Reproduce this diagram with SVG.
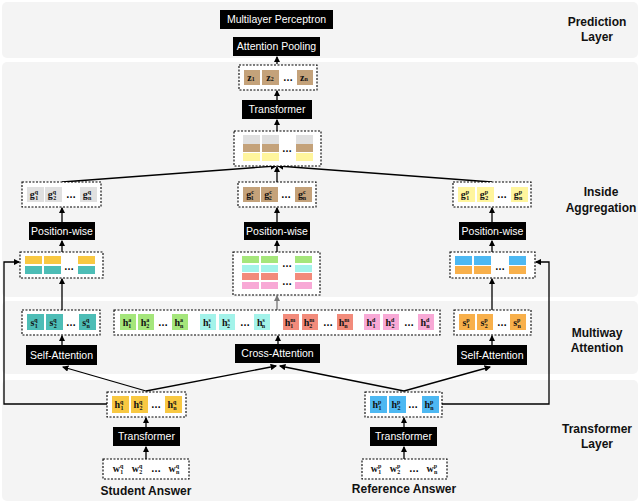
<svg xmlns="http://www.w3.org/2000/svg" width="640" height="503" viewBox="0 0 640 503">
<style>
.band{fill:#f4f4f4}
.blk{fill:#000}
.bt{fill:#fff;font-family:"Liberation Sans",Arial,sans-serif;font-size:10.5px;text-anchor:middle}
.db{fill:#fff;stroke:#000;stroke-width:1.1;stroke-dasharray:2,1.5}
.ct{font-family:"Liberation Serif",serif;font-weight:bold;font-size:10px;text-anchor:middle;fill:#111}
.dots{font-family:"Liberation Sans",sans-serif;font-weight:bold;font-size:10px;text-anchor:middle}
.lab{font-family:"Liberation Sans",Arial,sans-serif;font-weight:bold;font-size:12px;text-anchor:middle;fill:#111}
.ln{fill:none;stroke:#000;stroke-width:1.3}
.gy{fill:#e0e0e0}.br{fill:#c4a27a}.yl{fill:#fff59d}.yo{fill:#f8c842}.tl{fill:#4dbdb6}
.gr{fill:#a5e67b}.cy{fill:#a3f3ea}.sa{fill:#f28b7b}.pk{fill:#f8a9d6}.bl{fill:#4db8f2}.or{fill:#f8b04b}
</style>
<defs><marker id="a" viewBox="0 0 6 6" refX="5" refY="3" markerWidth="5" markerHeight="5" orient="auto"><path d="M0,0L6,3L0,6z" fill="#000"/></marker>
<marker id="ag" viewBox="0 0 6 6" refX="5" refY="3" markerWidth="5" markerHeight="5" orient="auto"><path d="M0,0L6,3L0,6z" fill="#777"/></marker></defs>
<rect class="band" x="2" y="2" width="636" height="56" rx="5"/>
<rect class="band" x="2" y="62" width="636" height="235" rx="5"/>
<rect class="band" x="2" y="301" width="636" height="73" rx="5"/>
<rect class="band" x="2" y="380" width="636" height="121" rx="5"/>
<g id="labels">
<text class="lab" x="597" y="26">Prediction</text><text class="lab" x="597" y="41">Layer</text>
<text class="lab" x="601" y="196">Inside</text><text class="lab" x="601" y="212">Aggregation</text>
<text class="lab" x="597" y="337">Multiway</text><text class="lab" x="597" y="352">Attention</text>
<text class="lab" x="597" y="433">Transformer</text><text class="lab" x="597" y="448">Layer</text>
<text class="lab" x="146" y="495">Student Answer</text><text class="lab" x="404" y="493">Reference Answer</text>
</g>
<g id="connectors">
<path class="ln" marker-end="url(#a)" d="M277,64V57"/>
<path class="ln" marker-end="url(#a)" d="M277,100V91"/>
<path class="ln" marker-end="url(#a)" d="M277,131V120"/>
<path class="ln" marker-end="url(#a)" d="M62,182L276,166"/>
<path class="ln" marker-end="url(#a)" d="M277,182V167"/>
<path class="ln" marker-end="url(#a)" d="M492,182L278,166"/>
<path class="ln" marker-end="url(#a)" d="M62,222V208"/>
<path class="ln" marker-end="url(#a)" d="M277,222V208"/>
<path class="ln" marker-end="url(#a)" d="M492,222V208"/>
<path class="ln" marker-end="url(#a)" d="M62,252V241"/>
<path class="ln" marker-end="url(#a)" d="M277,252V241"/>
<path class="ln" marker-end="url(#a)" d="M492,252V241"/>
<path class="ln" marker-end="url(#a)" d="M62,310V279"/>
<path class="ln" marker-end="url(#a)" d="M492,310V279"/>
<path class="ln" stroke="#777" style="stroke:#777" marker-end="url(#ag)" d="M277,310V296"/>
<path class="ln" marker-end="url(#a)" d="M62,345V336"/>
<path class="ln" marker-end="url(#a)" d="M492,345V336"/>
<path class="ln" marker-end="url(#a)" d="M278,344V336"/>
<path class="ln" marker-end="url(#a)" d="M146,391L63,367"/>
<path class="ln" marker-end="url(#a)" d="M146,391L276,366"/>
<path class="ln" marker-end="url(#a)" d="M404,391L280,366"/>
<path class="ln" marker-end="url(#a)" d="M404,391L490,367"/>
<path class="ln" marker-end="url(#a)" d="M107,404H4V262H19"/>
<path class="ln" marker-end="url(#a)" d="M442,404H549V262H536"/>
<path class="ln" marker-end="url(#a)" d="M146,427V418"/>
<path class="ln" marker-end="url(#a)" d="M404,427V418"/>
<path class="ln" marker-end="url(#a)" d="M146,459V447"/>
<path class="ln" marker-end="url(#a)" d="M404,459V447"/>
</g>
<g id="mlp"><rect class="blk" x="220" y="10" width="113" height="19"/><text class="bt" x="276.5" y="23">Multilayer Perceptron</text></g>
<g id="attnpool"><rect class="blk" x="233" y="37" width="87" height="19"/><text class="bt" x="276.5" y="50">Attention Pooling</text></g>
<g id="z">
<rect class="db" x="239" y="65" width="78" height="25"/>
<rect class="br" x="244" y="70" width="16" height="15"/><rect class="br" x="262" y="70" width="17" height="15"/><rect class="br" x="297" y="70" width="16" height="15"/>
<text class="ct" x="251" y="81">z<tspan font-size="6">1</tspan></text><text class="ct" x="270" y="81">z<tspan font-size="6">2</tspan></text><text class="ct" x="304" y="81">z<tspan font-size="6">n</tspan></text>
<text class="dots" x="288" y="81">…</text></g>
<g id="trans-top"><rect class="blk" x="242" y="100" width="70" height="19"/><text class="bt" x="277" y="113">Transformer</text></g>
<g id="agg">
<rect class="db" x="234" y="131" width="87" height="35"/>
<rect class="gy" x="243" y="135" width="17" height="9"/><rect class="gy" x="262" y="135" width="17" height="9"/><rect class="gy" x="296" y="135" width="17" height="9"/>
<rect class="br" x="243" y="144" width="17" height="8"/><rect class="br" x="262" y="144" width="17" height="8"/><rect class="br" x="296" y="144" width="17" height="8"/>
<rect class="yl" x="243" y="153" width="17" height="8"/><rect class="yl" x="262" y="153" width="17" height="8"/><rect class="yl" x="296" y="153" width="17" height="8"/>
<text class="dots" x="287" y="152">…</text></g>
<g id="gq">
<rect class="db" x="22" y="182" width="79" height="25"/>
<rect class="gy" x="27" y="187" width="17" height="15"/><rect class="gy" x="45" y="187" width="17" height="15"/><rect class="gy" x="80" y="187" width="17" height="15"/>
<text class="ct" x="34" y="198">g<tspan font-size="6" dy="-4">q</tspan><tspan font-size="6" dx="-3" dy="6">1</tspan></text>
<text class="ct" x="52" y="198">g<tspan font-size="6" dy="-4">q</tspan><tspan font-size="6" dx="-3" dy="6">2</tspan></text>
<text class="ct" x="87" y="198">g<tspan font-size="6" dy="-4">q</tspan><tspan font-size="6" dx="-3" dy="6">n</tspan></text>
<text class="dots" x="71" y="198">…</text></g>
<g id="gc">
<rect class="db" x="238" y="182" width="78" height="25"/>
<rect class="br" x="243" y="187" width="17" height="15"/><rect class="br" x="261" y="187" width="17" height="15"/><rect class="br" x="295" y="187" width="17" height="15"/>
<text class="ct" x="250" y="198">g<tspan font-size="6" dy="-4">c</tspan><tspan font-size="6" dx="-3" dy="6">1</tspan></text>
<text class="ct" x="268" y="198">g<tspan font-size="6" dy="-4">c</tspan><tspan font-size="6" dx="-3" dy="6">2</tspan></text>
<text class="ct" x="302" y="198">g<tspan font-size="6" dy="-4">c</tspan><tspan font-size="6" dx="-3" dy="6">n</tspan></text>
<text class="dots" x="286" y="198">…</text></g>
<g id="gp">
<rect class="db" x="453" y="182" width="78" height="25"/>
<rect class="yl" x="458" y="187" width="17" height="15"/><rect class="yl" x="477" y="187" width="17" height="15"/><rect class="yl" x="511" y="187" width="17" height="15"/>
<text class="ct" x="465" y="198">g<tspan font-size="6" dy="-4">p</tspan><tspan font-size="6" dx="-3" dy="6">1</tspan></text>
<text class="ct" x="484" y="198">g<tspan font-size="6" dy="-4">p</tspan><tspan font-size="6" dx="-3" dy="6">2</tspan></text>
<text class="ct" x="518" y="198">g<tspan font-size="6" dy="-4">p</tspan><tspan font-size="6" dx="-3" dy="6">n</tspan></text>
<text class="dots" x="502" y="198">…</text></g>
<g id="pw-l"><rect class="blk" x="29" y="222" width="66" height="18"/><text class="bt" x="62" y="235">Position-wise</text></g>
<g id="pw-c"><rect class="blk" x="244" y="222" width="66" height="18"/><text class="bt" x="277" y="235">Position-wise</text></g>
<g id="pw-r"><rect class="blk" x="459" y="222" width="67" height="18"/><text class="bt" x="492.5" y="235">Position-wise</text></g>
<g id="cat-l">
<rect class="db" x="20" y="252" width="83" height="26"/>
<rect class="yo" x="25" y="256" width="17" height="8"/><rect class="yo" x="44" y="256" width="17" height="8"/><rect class="yo" x="78" y="256" width="17" height="8"/>
<rect class="tl" x="25" y="266" width="17" height="8"/><rect class="tl" x="44" y="266" width="17" height="8"/><rect class="tl" x="78" y="266" width="17" height="8"/>
<text class="dots" x="69" y="270">…</text></g>
<g id="cat-c">
<rect class="db" x="233" y="252" width="87" height="43"/>
<rect class="gr" x="242" y="256" width="17" height="7"/><rect class="gr" x="261" y="256" width="17" height="7"/><rect class="gr" x="295" y="256" width="17" height="7"/>
<rect class="cy" x="242" y="265" width="17" height="7"/><rect class="cy" x="261" y="265" width="17" height="7"/><rect class="cy" x="295" y="265" width="17" height="7"/>
<rect class="sa" x="242" y="273" width="17" height="7"/><rect class="sa" x="261" y="273" width="17" height="7"/><rect class="sa" x="295" y="273" width="17" height="7"/>
<rect class="pk" x="242" y="282" width="17" height="7"/><rect class="pk" x="261" y="282" width="17" height="7"/><rect class="pk" x="295" y="282" width="17" height="7"/>
<text class="dots" x="287" y="267">…</text><text class="dots" x="287" y="285">…</text></g>
<g id="cat-r">
<rect class="db" x="450" y="252" width="85" height="26"/>
<rect class="bl" x="455" y="256" width="17" height="9"/><rect class="bl" x="474" y="256" width="17" height="9"/><rect class="bl" x="509" y="256" width="17" height="9"/>
<rect class="or" x="455" y="266" width="17" height="8"/><rect class="or" x="474" y="266" width="17" height="8"/><rect class="or" x="509" y="266" width="17" height="8"/>
<text class="dots" x="500" y="270">…</text></g>
<g id="sq">
<rect class="db" x="22" y="310" width="78" height="25"/>
<rect class="tl" x="27" y="314" width="17" height="16"/><rect class="tl" x="46" y="314" width="17" height="16"/><rect class="tl" x="79" y="314" width="17" height="16"/>
<text class="ct" x="34" y="326">s<tspan font-size="6" dy="-4">q</tspan><tspan font-size="6" dx="-3" dy="6">1</tspan></text>
<text class="ct" x="53" y="326">s<tspan font-size="6" dy="-4">q</tspan><tspan font-size="6" dx="-3" dy="6">2</tspan></text>
<text class="ct" x="86" y="326">s<tspan font-size="6" dy="-4">q</tspan><tspan font-size="6" dx="-3" dy="6">n</tspan></text>
<text class="dots" x="71" y="326">…</text></g>
<g id="sp">
<rect class="db" x="454" y="310" width="77" height="25"/>
<rect class="or" x="459" y="314" width="16" height="16"/><rect class="or" x="477" y="314" width="16" height="16"/><rect class="or" x="510" y="314" width="16" height="16"/>
<text class="ct" x="466" y="326">s<tspan font-size="6" dy="-4">p</tspan><tspan font-size="6" dx="-3" dy="6">1</tspan></text>
<text class="ct" x="484" y="326">s<tspan font-size="6" dy="-4">p</tspan><tspan font-size="6" dx="-3" dy="6">2</tspan></text>
<text class="ct" x="517" y="326">s<tspan font-size="6" dy="-4">p</tspan><tspan font-size="6" dx="-3" dy="6">n</tspan></text>
<text class="dots" x="502" y="326">…</text></g>
<g id="hcross">
<rect class="db" x="114" y="310" width="326" height="25"/>
<rect class="gr" x="120" y="314" width="16" height="16"/><rect class="gr" x="138" y="314" width="16" height="16"/><rect class="gr" x="172" y="314" width="16" height="16"/>
<rect class="cy" x="200" y="314" width="16" height="16"/><rect class="cy" x="219" y="314" width="16" height="16"/><rect class="cy" x="254" y="314" width="16" height="16"/>
<rect class="sa" x="283" y="314" width="16" height="16"/><rect class="sa" x="302" y="314" width="16" height="16"/><rect class="sa" x="337" y="314" width="16" height="16"/>
<rect class="pk" x="364" y="314" width="16" height="16"/><rect class="pk" x="383" y="314" width="16" height="16"/><rect class="pk" x="418" y="314" width="16" height="16"/>
<text class="ct" x="127" y="326">h<tspan font-size="6" dy="-4">a</tspan><tspan font-size="6" dx="-3" dy="6">1</tspan></text>
<text class="ct" x="145" y="326">h<tspan font-size="6" dy="-4">a</tspan><tspan font-size="6" dx="-3" dy="6">2</tspan></text>
<text class="ct" x="179" y="326">h<tspan font-size="6" dy="-4">a</tspan><tspan font-size="6" dx="-3" dy="6">n</tspan></text>
<text class="ct" x="207" y="326">h<tspan font-size="6" dy="-4">s</tspan><tspan font-size="6" dx="-3" dy="6">1</tspan></text>
<text class="ct" x="226" y="326">h<tspan font-size="6" dy="-4">s</tspan><tspan font-size="6" dx="-3" dy="6">2</tspan></text>
<text class="ct" x="261" y="326">h<tspan font-size="6" dy="-4">s</tspan><tspan font-size="6" dx="-3" dy="6">n</tspan></text>
<text class="ct" x="290" y="326">h<tspan font-size="6" dy="-4">m</tspan><tspan font-size="6" dx="-5" dy="6">1</tspan></text>
<text class="ct" x="309" y="326">h<tspan font-size="6" dy="-4">m</tspan><tspan font-size="6" dx="-5" dy="6">2</tspan></text>
<text class="ct" x="344" y="326">h<tspan font-size="6" dy="-4">m</tspan><tspan font-size="6" dx="-5" dy="6">n</tspan></text>
<text class="ct" x="371" y="326">h<tspan font-size="6" dy="-4">d</tspan><tspan font-size="6" dx="-3" dy="6">1</tspan></text>
<text class="ct" x="390" y="326">h<tspan font-size="6" dy="-4">d</tspan><tspan font-size="6" dx="-3" dy="6">2</tspan></text>
<text class="ct" x="425" y="326">h<tspan font-size="6" dy="-4">d</tspan><tspan font-size="6" dx="-3" dy="6">n</tspan></text>
<text class="dots" x="163" y="326">…</text><text class="dots" x="245" y="326">…</text><text class="dots" x="328" y="326">…</text><text class="dots" x="409" y="326">…</text></g>
<g id="sa-l"><rect class="blk" x="26" y="345" width="71" height="20"/><text class="bt" x="61.5" y="359">Self-Attention</text></g>
<g id="ca"><rect class="blk" x="235" y="344" width="85" height="19"/><text class="bt" x="277.5" y="357">Cross-Attention</text></g>
<g id="sa-r"><rect class="blk" x="457" y="345" width="70" height="20"/><text class="bt" x="492" y="359">Self-Attention</text></g>
<g id="hq">
<rect class="db" x="107" y="392" width="79" height="25"/>
<rect class="yo" x="112" y="396" width="17" height="17"/><rect class="yo" x="131" y="396" width="17" height="17"/><rect class="yo" x="165" y="396" width="17" height="17"/>
<text class="ct" x="119" y="408">h<tspan font-size="6" dy="-4">q</tspan><tspan font-size="6" dx="-3" dy="6">1</tspan></text>
<text class="ct" x="138" y="408">h<tspan font-size="6" dy="-4">q</tspan><tspan font-size="6" dx="-3" dy="6">2</tspan></text>
<text class="ct" x="172" y="408">h<tspan font-size="6" dy="-4">q</tspan><tspan font-size="6" dx="-3" dy="6">n</tspan></text>
<text class="dots" x="156" y="408">…</text></g>
<g id="hp">
<rect class="db" x="365" y="392" width="77" height="25"/>
<rect class="bl" x="370" y="396" width="17" height="17"/><rect class="bl" x="389" y="396" width="17" height="17"/><rect class="bl" x="422" y="396" width="17" height="17"/>
<text class="ct" x="377" y="408">h<tspan font-size="6" dy="-4">p</tspan><tspan font-size="6" dx="-3" dy="6">1</tspan></text>
<text class="ct" x="396" y="408">h<tspan font-size="6" dy="-4">p</tspan><tspan font-size="6" dx="-3" dy="6">2</tspan></text>
<text class="ct" x="429" y="408">h<tspan font-size="6" dy="-4">p</tspan><tspan font-size="6" dx="-3" dy="6">n</tspan></text>
<text class="dots" x="413" y="408">…</text></g>
<g id="tr-l"><rect class="blk" x="113" y="427" width="67" height="19"/><text class="bt" x="146.5" y="440">Transformer</text></g>
<g id="tr-r"><rect class="blk" x="370" y="427" width="67" height="19"/><text class="bt" x="403.5" y="440">Transformer</text></g>
<g id="wq">
<rect class="db" x="103" y="459" width="86" height="20"/>
<text class="ct" x="118" y="472">w<tspan font-size="6" dy="-4">q</tspan><tspan font-size="6" dx="-3" dy="6">1</tspan></text>
<text class="ct" x="137" y="472">w<tspan font-size="6" dy="-4">q</tspan><tspan font-size="6" dx="-3" dy="6">2</tspan></text>
<text class="ct" x="174" y="472">w<tspan font-size="6" dy="-4">q</tspan><tspan font-size="6" dx="-3" dy="6">n</tspan></text>
<text class="dots" x="156" y="472">…</text></g>
<g id="wp">
<rect class="db" x="362" y="459" width="85" height="20"/>
<text class="ct" x="376" y="472">w<tspan font-size="6" dy="-4">p</tspan><tspan font-size="6" dx="-3" dy="6">1</tspan></text>
<text class="ct" x="395" y="472">w<tspan font-size="6" dy="-4">p</tspan><tspan font-size="6" dx="-3" dy="6">2</tspan></text>
<text class="ct" x="432" y="472">w<tspan font-size="6" dy="-4">p</tspan><tspan font-size="6" dx="-3" dy="6">n</tspan></text>
<text class="dots" x="414" y="472">…</text></g>
</svg>
